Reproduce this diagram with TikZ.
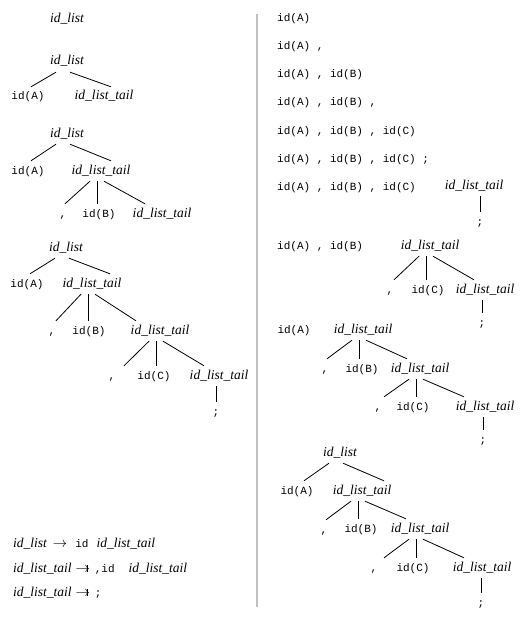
\documentclass[tikz,border=0pt]{standalone}
\usepackage{fontspec}
\setmainfont{Liberation Serif}
\setmonofont{Liberation Mono}
\newcommand\tmtext[1]{{\fontsize{11}{12}\selectfont\ttfamily\upshape #1}}
\newcommand\barto{\mbox{$\rightarrow$\kern-3.4pt\rule[-0.4pt]{0.7pt}{7.6pt}\kern2.4pt}}
\newcommand\EdL[2]{\path ([xshift=-11pt]#1.south) coordinate (tmpA) ([xshift=-36pt]#1.south) coordinate (tmpB);
  \draw[br] (tmpA) -- (tmpB |- #2.north);}
\newcommand\EdM[2]{\path ([xshift=-4pt]#1.south) coordinate (tmpA);
  \draw[br] (tmpA) -- (tmpA |- #2.north);}
\newcommand\EdR[2]{\path ([xshift=3pt]#1.south) coordinate (tmpA) ([xshift=44pt]#1.south) coordinate (tmpB);
  \draw[br] (tmpA) -- (tmpB |- #2.north);}
\newcommand\EdS[2]{\draw[br] (#2.north |- #1.south) -- (#2.north);}
\tikzset{
  nt/.style={font=\fontsize{13.5}{15}\selectfont\itshape, inner xsep=0pt, inner ysep=5pt, text height=8pt, text depth=2pt},
  tm/.style={font=\fontsize{11}{12}\selectfont\ttfamily, inner xsep=0pt, inner ysep=5pt, text height=8pt, text depth=2pt},
  gr/.style={font=\fontsize{13.5}{15}\selectfont\itshape, inner sep=0pt, anchor=base west},
  br/.style={line width=0.8pt, black},
}
\begin{document}
\begin{tikzpicture}[x=1pt, y=-1pt]
\useasboundingbox (0,0) rectangle (528,623);
\draw[line width=2pt, color={rgb,255:red,192;green,192;blue,192}] (257,14) -- (257,607);
% ---------- left column ----------
\node[nt] (t0) at (67,20) {id\_list};
% tree 1
\node[nt] (r1) at (67,62) {id\_list};
\node[tm] (a1) at (28,97) {id(A)};
\node[nt] (t1) at (104,97) {id\_list\_tail};
\EdL{r1}{a1}\EdR{r1}{t1}
% tree 2
\node[nt] (r2) at (67,134) {id\_list};
\node[tm] (a2) at (28,171) {id(A)};
\node[nt] (t2) at (101,171) {id\_list\_tail};
\node[tm] (c2) at (63,214) {,};
\node[tm] (b2) at (99,214) {id(B)};
\node[nt] (u2) at (162,214) {id\_list\_tail};
\EdL{r2}{a2}\EdR{r2}{t2}
\EdL{t2}{c2}\EdM{t2}{b2}\EdR{t2}{u2}
% tree 3
\node[nt] (r3) at (66,248) {id\_list};
\node[tm] (a3) at (27,284) {id(A)};
\node[nt] (t3) at (92,284) {id\_list\_tail};
\node[tm] (c3) at (52,331) {,};
\node[tm] (b3) at (89,331) {id(B)};
\node[nt] (u3) at (160,331) {id\_list\_tail};
\node[tm] (c3b) at (112,376) {,};
\node[tm] (d3) at (154,376) {id(C)};
\node[nt] (v3) at (219,376) {id\_list\_tail};
\node[tm] (s3) at (216,412) {;};
\EdL{r3}{a3}\EdR{r3}{t3}
\EdL{t3}{c3}\EdM{t3}{b3}\EdR{t3}{u3}
\EdL{u3}{c3b}\EdM{u3}{d3}\EdR{u3}{v3}
\EdS{v3}{s3}
% grammar
\node[gr] (g1) at (13,547) {id\_list\hspace{6pt}$\rightarrow$\hspace{8pt}\tmtext{id}\hspace{8pt}id\_list\_tail};
\node[gr] (g2) at (13,572) {id\_list\_tail\hspace{4pt}\barto\hspace{5pt}\tmtext{,id}\hspace{14pt}id\_list\_tail};
\node[gr] (g3) at (13,596) {id\_list\_tail\hspace{4pt}\barto\hspace{5pt}\tmtext{;}};
% ---------- right column ----------
\node[tm, anchor=west] (q1) at (277,19) {id(A)};
\node[tm, anchor=west] (q2) at (277,47) {id(A) ,};
\node[tm, anchor=west] (q3) at (277,75) {id(A) , id(B)};
\node[tm, anchor=west] (q4) at (277,103) {id(A) , id(B) ,};
\node[tm, anchor=west] (q5) at (277,131) {id(A) , id(B) , id(C)};
\node[tm, anchor=west] (q6) at (277,159) {id(A) , id(B) , id(C) ;};
% row 7
\node[tm, anchor=west] (q7) at (277,187) {id(A) , id(B) , id(C)};
\node[nt] (w7) at (474,186) {id\_list\_tail};
\node[tm] (s7) at (480,222) {;};
\EdS{w7}{s7}
% row 8
\node[tm, anchor=west] (q8) at (277,246) {id(A) , id(B)};
\node[nt] (w8) at (430,246) {id\_list\_tail};
\node[tm] (c8) at (390,290) {,};
\node[tm] (d8) at (428,290) {id(C)};
\node[nt] (x8) at (485,290) {id\_list\_tail};
\node[tm] (s8) at (482,323) {;};
\EdL{w8}{c8}\EdM{w8}{d8}\EdR{w8}{x8}
\EdS{x8}{s8}
% row 9
\node[tm] (q9) at (294,330) {id(A)};
\node[nt] (w9) at (363,330) {id\_list\_tail};
\node[tm] (c9) at (325,369) {,};
\node[tm] (b9) at (362,369) {id(B)};
\node[nt] (x9) at (420,369) {id\_list\_tail};
\node[tm] (c9b) at (378,407) {,};
\node[tm] (d9) at (413,407) {id(C)};
\node[nt] (y9) at (485,407) {id\_list\_tail};
\node[tm] (s9) at (483,440) {;};
\EdL{w9}{c9}\EdM{w9}{b9}\EdR{w9}{x9}
\EdL{x9}{c9b}\EdM{x9}{d9}\EdR{x9}{y9}
\EdS{y9}{s9}
% bottom full tree
\node[nt] (r10) at (340,453) {id\_list};
\node[tm] (a10) at (297,491) {id(A)};
\node[nt] (t10) at (362,491) {id\_list\_tail};
\node[tm] (c10) at (324,530) {,};
\node[tm] (b10) at (361,529) {id(B)};
\node[nt] (u10) at (420,529) {id\_list\_tail};
\node[tm] (c10b) at (374,568) {,};
\node[tm] (d10) at (413,568) {id(C)};
\node[nt] (v10) at (482,568) {id\_list\_tail};
\node[tm] (s10) at (481,603) {;};
\EdL{r10}{a10}\EdR{r10}{t10}
\EdL{t10}{c10}\EdM{t10}{b10}\EdR{t10}{u10}
\EdL{u10}{c10b}\EdM{u10}{d10}\EdR{u10}{v10}
\EdS{v10}{s10}
\end{tikzpicture}
\end{document}
